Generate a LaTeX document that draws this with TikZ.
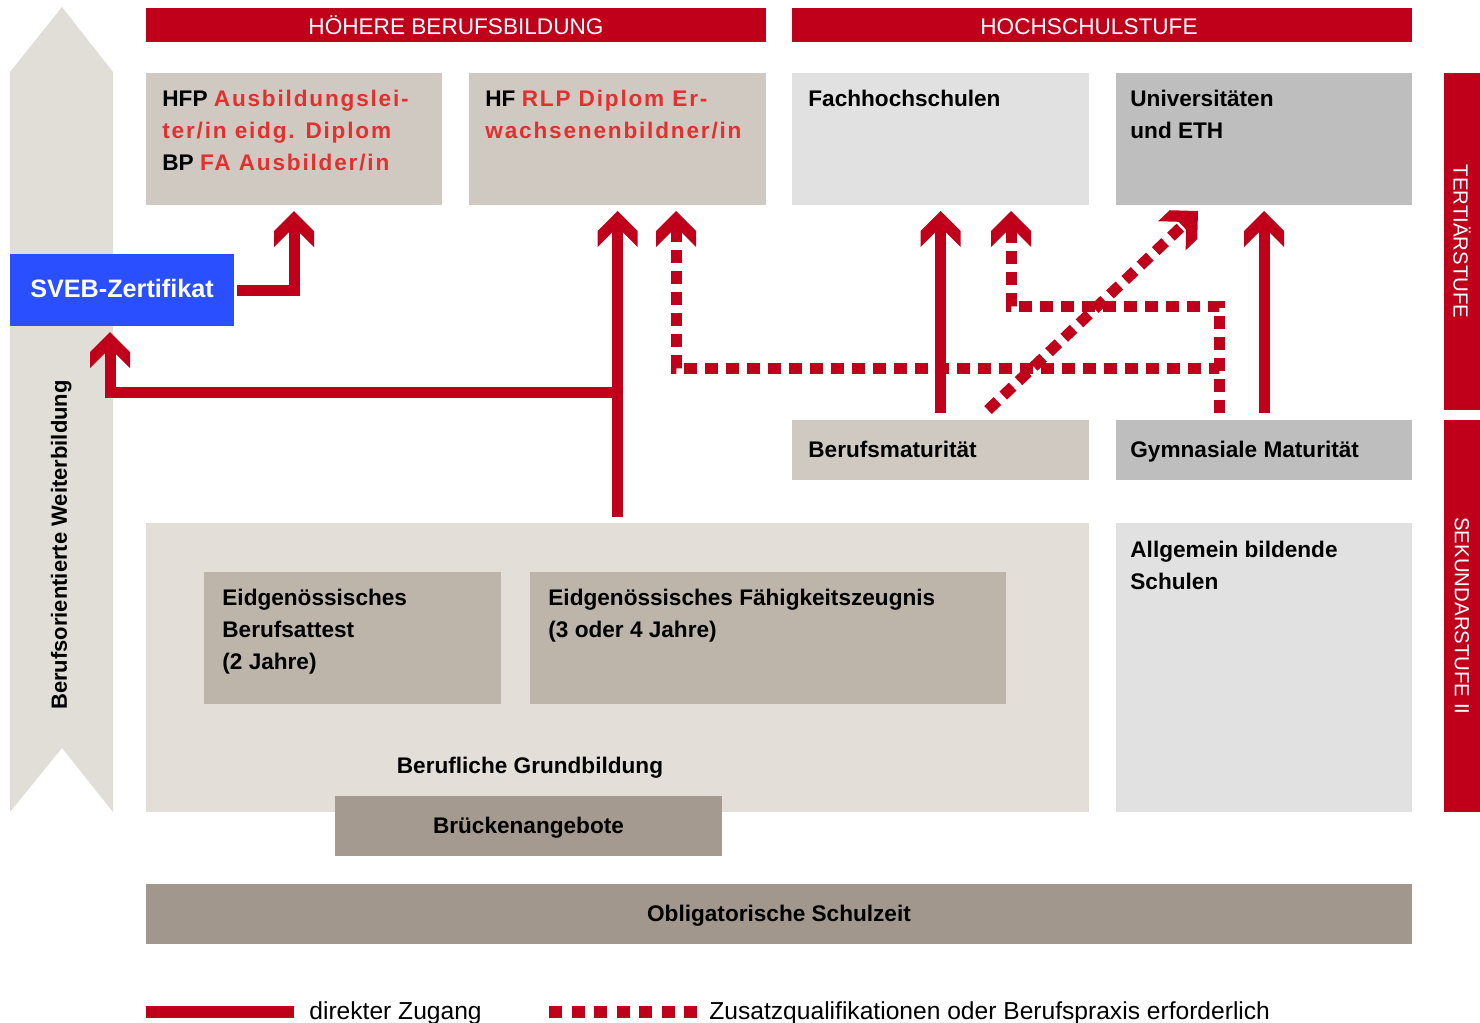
\documentclass[tikz,border=0pt]{standalone}
\usepackage{fontspec}
\setmainfont{Liberation Sans}
\newfontfamily\spacedfont[LetterSpace=8]{Liberation Sans}
\usetikzlibrary{calc,fit,positioning,arrows.meta}

\definecolor{sred}{HTML}{C0001A}
\definecolor{txtred}{HTML}{E3302F}
\definecolor{beige}{HTML}{D0C9C2}
\definecolor{lightgrey}{HTML}{E1E1E1}
\definecolor{midgrey}{HTML}{BEBEBE}
\definecolor{grundbg}{HTML}{E3DFD8}
\definecolor{innerbox}{HTML}{BDB4AA}
\definecolor{bruecke}{HTML}{A49A8F}
\definecolor{obligat}{HTML}{A1978C}
\definecolor{chevbg}{HTML}{E1DED7}
\definecolor{svebblue}{HTML}{2A4FFF}

% thick chevron arrow head
\pgfdeclarearrow{
  name = Chevron,
  setup code = {
    \pgfarrowssettipend{0pt}
    \pgfarrowssetlineend{-10pt}
    \pgfarrowssetbackend{-18pt}
    \pgfarrowshullpoint{0pt}{0pt}
    \pgfarrowshullpoint{-18pt}{10pt}
    \pgfarrowshullpoint{-18pt}{-10pt}
  },
  drawing code = {
    \pgfpathmoveto{\pgfpoint{0pt}{0pt}}
    \pgfpathlineto{\pgfpoint{-10pt}{10pt}}
    \pgfpathlineto{\pgfpoint{-18pt}{10pt}}
    \pgfpathlineto{\pgfpoint{-10.75pt}{2.75pt}}
    \pgfpathlineto{\pgfpoint{-10.75pt}{-2.75pt}}
    \pgfpathlineto{\pgfpoint{-18pt}{-10pt}}
    \pgfpathlineto{\pgfpoint{-10pt}{-10pt}}
    \pgfpathclose
    \pgfusepathqfill
  }
}

\newcommand{\redpart}[1]{{\spacedfont\bfseries\color{txtred}#1}}

\begin{document}
\begin{tikzpicture}[x=0.5pt, y=-0.5pt,
  panel/.style={inner sep=0pt, outer sep=0pt},
  lbl/.style={anchor=base west, inner sep=0pt, align=left, font=\bfseries\fontsize{11.3}{16}\selectfont},
  clbl/.style={anchor=base, inner sep=0pt, font=\bfseries\fontsize{11.3}{16}\selectfont},
  hdr/.style={text=white, anchor=base, inner sep=0pt, font=\fontsize{11.3}{14}\selectfont},
  sidehdr/.style={text=white, rotate=-90, inner sep=0pt, font=\fontsize{10.2}{12}\selectfont},
  route/.style={color=sred, line width=5.5pt, -Chevron},
  dashroute/.style={route, dash pattern=on 6.5pt off 4pt},
  legtxt/.style={anchor=base west, inner sep=0pt, font=\fontsize{12.3}{14}\selectfont}]
  \useasboundingbox (0,0) rectangle (1480,1023);

  % Weiterbildung band
  \fill[chevbg] (62,7) -- (113,72) -- (113,812) -- (62,748) -- (10,812) -- (10,72) -- cycle;
  \node[rotate=90, anchor=base, inner sep=0pt, font=\bfseries\fontsize{11}{13}\selectfont] (wbtxt) at (67,545) {Berufsorientierte Weiterbildung};

  % headers
  \node[panel, fill=sred, fit={(146,8) (766,42)}] (hbb) {};
  \node[hdr] (hbbtxt) at ($(hbb.south)+(0,-8)$) {HÖHERE BERUFSBILDUNG};
  \node[panel, fill=sred, fit={(792,8) (1412,42)}] (hss) {};
  \node[hdr] (hsstxt) at ($(hss.south)+(-13,-8)$) {HOCHSCHULSTUFE};

  \node[panel, fill=sred, fit={(1444,73) (1480,410)}] (tert) {};
  \node[sidehdr] (terttxt) at (tert.center) {TERTIÄRSTUFE};
  \node[panel, fill=sred, fit={(1444,420) (1480,812)}] (sek) {};
  \node[sidehdr] (sektxt) at (sek.center) {SEKUNDARSTUFE II};

  % tertiary level (multi-line labels sit on their last baseline)
  \node[panel, fill=beige, fit={(146,73) (442,205)}] (hfp) {};
  \node[lbl] (hfptxt) at ($(hfp.north west)+(16,97)$) {HFP \redpart{Ausbildungslei-}\\\redpart{ter/in eidg. Diplom}\\BP \redpart{FA Ausbilder/in}};
  \node[panel, fill=beige, fit={(469,73) (766,205)}] (hf) {};
  \node[lbl] (hftxt) at ($(hf.north west)+(16,65)$) {HF \redpart{RLP Diplom Er-}\\\redpart{wachsenenbildner/in}};
  \node[panel, fill=lightgrey, fit={(792,73) (1089,205)}] (fh) {};
  \node[lbl] (fhtxt) at ($(fh.north west)+(16,33)$) {Fachhochschulen};
  \node[panel, fill=midgrey, fit={(1116,73) (1412,205)}] (uni) {};
  \node[lbl] (unitxt) at ($(uni.north west)+(14,65)$) {Universitäten\\und ETH};

  \node[panel, fill=svebblue, fit={(10,254) (234,326)}] (sveb) {};
  \node[anchor=base, inner sep=0pt, text=white, font=\bfseries\fontsize{12.6}{15}\selectfont] (svebtxt) at ($(sveb.south)+(0,-29)$) {SVEB-Zertifikat};

  % secondary level
  \node[panel, fill=beige, fit={(792,420) (1089,480)}] (bm) {};
  \node[lbl] (bmtxt) at ($(bm.north west)+(16,37)$) {Berufsmaturität};
  \node[panel, fill=midgrey, fit={(1116,420) (1412,480)}] (gym) {};
  \node[lbl] (gymtxt) at ($(gym.north west)+(14,37)$) {Gymnasiale Maturität};

  \node[panel, fill=grundbg, fit={(146,523) (1089,812)}] (bgb) {};
  \node[panel, fill=innerbox, fit={(204,572) (501,704)}] (eba) {};
  \node[lbl] (ebatxt) at ($(eba.north west)+(18,97)$) {Eidgenössisches\\Berufsattest\\(2 Jahre)};
  \node[panel, fill=innerbox, fit={(530,572) (1006,704)}] (efz) {};
  \node[lbl] (efztxt) at ($(efz.north west)+(18,65)$) {Eidgenössisches Fähigkeitszeugnis\\(3 oder 4 Jahre)};
  \node[clbl] (bgbtxt) at ($(bgb.south west)+(384,-39)$) {Berufliche Grundbildung};
  \node[panel, fill=bruecke, fit={(335,796) (722,856)}] (br) {};
  \node[clbl] (brtxt) at ($(br.south)+(0,-23)$) {Brückenangebote};
  \node[panel, fill=lightgrey, fit={(1116,523) (1412,812)}] (abs) {};
  \node[lbl] (abstxt) at ($(abs.north west)+(14,66)$) {Allgemein bildende\\Schulen};

  \node[panel, fill=obligat, fit={(146,884) (1412,944)}] (obl) {};
  \node[clbl] (obltxt) at ($(obl.south)+(0,-23)$) {Obligatorische Schulzeit};

  % direct routes
  \coordinate (fork) at ($(bgb.north)+(0,-131)$);
  \draw[route, shorten <=1.5pt, shorten >=3pt] (sveb.east) -| ($(hfp.south west)+(148,0)$);
  \draw[route, shorten <=3pt, shorten >=3pt] (bgb.north) -- (hf.south);
  \draw[route, shorten >=3pt] (fork) -| ($(sveb.south)+(-12,0)$);
  \draw[route, shorten <=3.5pt, shorten >=3pt] (bm.north) -- (fh.south);
  \draw[route, shorten <=3.5pt, shorten >=3pt] (gym.north) -- (uni.south);

  % routes with extra requirements
  \draw[dashroute, shorten <=3.5pt, shorten >=3pt] ($(gym.north west)+(103,0)$) |- ($(hf.south west)+(207,163)$) -- ($(hf.south west)+(207,0)$);
  \draw[dashroute, shorten <=3.5pt, shorten >=3pt] ($(gym.north west)+(103,0)$) |- ($(fh.south west)+(219,101)$) -- ($(fh.south west)+(219,0)$);
  \draw[dashroute] ($(bm.north west)+(196,-10)$) -- ($(uni.south west)+(82,6)$);

  % legend
  \coordinate (solidA) at (146,1012);
  \coordinate (solidB) at (294,1012);
  \coordinate (dashA) at (549,1012);
  \coordinate (dashB) at (697,1012);
  \draw[sred, line width=6pt] (solidA) -- (solidB);
  \node[legtxt] (soliddesc) at (309,1019) {direkter Zugang};
  \draw[sred, line width=6pt, dash pattern=on 6.5pt off 4.75pt] (dashA) -- (dashB);
  \node[legtxt] (dashdesc) at (709,1019) {Zusatzqualifikationen oder Berufspraxis erforderlich};
\end{tikzpicture}
\end{document}
